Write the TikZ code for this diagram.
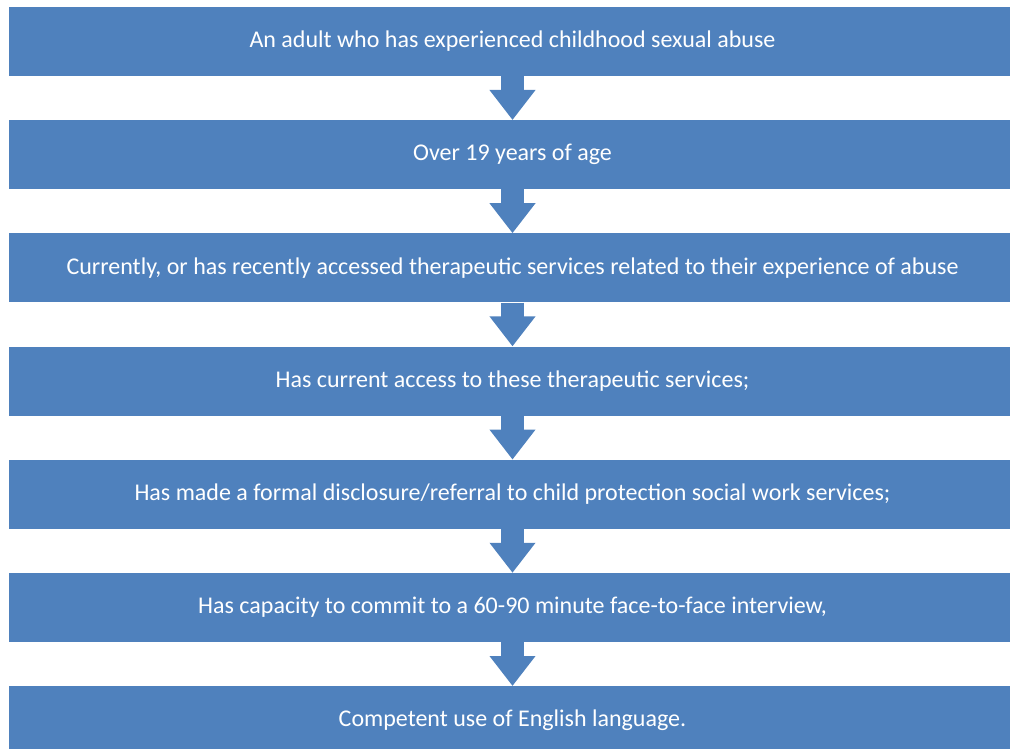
\documentclass[tikz,border=0pt]{standalone}
\usepackage{fontspec}
\setmainfont{Carlito}
\usetikzlibrary{positioning, arrows.meta}
\definecolor{boxblue}{RGB}{79, 129, 189}
\tikzset{
    stepnode/.style = {draw=none, rectangle, fill=boxblue, text=white, inner sep=0em,
      minimum width=1007pt, minimum height=69pt, node distance=43.8pt,
      font=\fontsize{24}{28}\selectfont},
    blockarrow/.style = {boxblue, line width=23pt, -{Triangle[width=44pt, length=30pt]}}
}

\begin{document}
\begin{tikzpicture}
\useasboundingbox (0pt, 0pt) rectangle (1010pt, -749pt);

\node [stepnode, name=adult] at (512.5pt, -41.5pt) {An adult who has experienced childhood sexual abuse};
\node [stepnode, name=age, below=of adult] {Over 19 years of age};
\node [stepnode, name=therapy, below=of age] 
    {Currently, or has recently accessed therapeutic services related to their experience of abuse};
\node [stepnode, name=access, below=of therapy] {Has current access to these therapeutic services;};
\node [stepnode, name=disclosure, below=of access] 
    {Has made a formal disclosure/referral to child protection social work services;};
\node [stepnode, name=interview, below=of disclosure] 
    {Has capacity to commit to a 60-90 minute face-to-face interview,};
\node [stepnode, name=english, below=of interview] {Competent use of English language.};

\draw [blockarrow] (adult.south) -- (age.north);
\draw [blockarrow] (age.south) -- (therapy.north);
\draw [blockarrow] (therapy.south) -- (access.north);
\draw [blockarrow] (access.south) -- (disclosure.north);
\draw [blockarrow] (disclosure.south) -- (interview.north);
\draw [blockarrow] (interview.south) -- (english.north);
\end{tikzpicture}
\end{document}
